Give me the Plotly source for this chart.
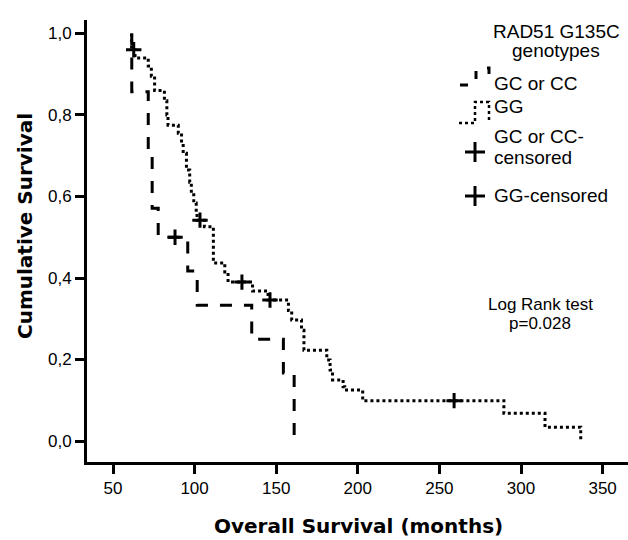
import plotly.graph_objects as go

# ---------------- data ----------------
# GC or CC genotype: event times (months) and survival after each event
gc_time = [61.5, 71.6, 74.0, 77.7, 95.8, 101.6, 135.0, 154.4, 161.0]
gc_surv = [0.857, 0.714, 0.571, 0.500, 0.417, 0.333, 0.250, 0.167, 0.0]
gc_cens_time = [88.0]
gc_cens_surv = [0.500]

# GG genotype
gg_time = [61.4, 63.5, 71.6, 73.5, 75.5, 81.5, 83.0, 83.7, 90.0, 92.0, 93.0,
           95.0, 97.0, 98.0, 99.5, 101.0, 101.5, 106.0, 111.5, 118.5, 120.5,
           135.5, 145.0, 157.5, 159.5, 165.5, 167.0, 181.0, 183.0, 184.5,
           191.0, 192.0, 203.0, 289.5, 314.7, 336.6]
gg_surv = [0.96, 0.94, 0.92, 0.895, 0.86, 0.835, 0.80, 0.775, 0.755, 0.73, 0.706,
           0.665, 0.635, 0.604, 0.584, 0.56, 0.542, 0.526, 0.437, 0.415, 0.39,
           0.368, 0.346, 0.32, 0.297, 0.272, 0.223, 0.199, 0.174, 0.15,
           0.133, 0.125, 0.099, 0.068, 0.034, 0.0]
gg_cens_time = [62.7, 103.3, 129.0, 146.2, 259.0]
gg_cens_surv = [0.96, 0.542, 0.39, 0.346, 0.099]

x_ticks = [50, 100, 150, 200, 250, 300, 350]
y_ticks = [0.0, 0.2, 0.4, 0.6, 0.8, 1.0]
y_ticklabels = ["0,0", "0,2", "0,4", "0,6", "0,8", "1,0"]

legend_title = ["RAD51 G135C", "genotypes"]
legend_labels = ["GC or CC", "GG", "GC or CC-", "censored", "GG-censored"]
test_text = ["Log Rank test", "p=0.028"]
x_title = "Overall Survival (months)"
y_title = "Cumulative Survival"

# ---------------- layout geometry ----------------
W, H = 628, 540
L, R, T, B = 87, 0, 20, 78
PW, PH = W - L - R, H - T - B


def px(x):
    return (x - L) / PW


def py(y):
    return (H - B - y) / PH


SANS = "Liberation Sans, Arial, sans-serif"
BOLD = "DejaVu Sans, Verdana, sans-serif"

fig = go.Figure()

# survival step curves (start at 1.0 at first event time)
fig.add_trace(go.Scatter(
    x=[gc_time[0]] + gc_time, y=[1.0] + gc_surv, mode="lines",
    line=dict(shape="hv", color="black", width=3, dash="12px,12px"),
    name="GC or CC", hoverinfo="skip"))
fig.add_trace(go.Scatter(
    x=[gg_time[0]] + gg_time, y=[1.0] + gg_surv, mode="lines",
    line=dict(shape="hv", color="black", width=3, dash="3px,3px"),
    name="GG", hoverinfo="skip"))
fig.add_trace(go.Scatter(
    x=gc_cens_time, y=gc_cens_surv, mode="markers",
    marker=dict(symbol="cross-thin", size=11, line=dict(width=3, color="black")),
    name="GC or CC-censored"))
fig.add_trace(go.Scatter(
    x=gg_cens_time, y=gg_cens_surv, mode="markers",
    marker=dict(symbol="cross-thin", size=11, line=dict(width=3, color="black")),
    name="GG-censored"))

axis_common = dict(
    showgrid=False, zeroline=False, showline=True, linewidth=3, linecolor="black",
    ticks="outside", ticklen=9, tickwidth=3, tickcolor="black",
    tickfont=dict(family=SANS, size=17, color="black"),
)
fig.update_xaxes(range=[34.07, 365.56], tickvals=x_ticks,
                 ticktext=[str(v) for v in x_ticks], **axis_common)
fig.update_yaxes(range=[-0.0515, 1.0331], tickvals=y_ticks,
                 ticktext=y_ticklabels, **axis_common)

ann = []
# axis titles
ann.append(dict(text="<b>" + x_title + "</b>", x=px(358), y=py(526), xref="paper", yref="paper",
                showarrow=False, xanchor="center", yanchor="middle",
                font=dict(family=BOLD, size=20, color="black")))
ann.append(dict(text="<b>" + y_title + "</b>", x=px(25), y=py(226), xref="paper", yref="paper",
                showarrow=False, xanchor="center", yanchor="middle", textangle=-90,
                font=dict(family=BOLD, size=20, color="black")))
# legend texts
LF = dict(family=SANS, size=19, color="black")
ann.append(dict(text=legend_title[0], x=px(556), y=py(31), xref="paper", yref="paper",
                showarrow=False, xanchor="center", yanchor="middle", font=LF))
ann.append(dict(text=legend_title[1], x=px(556), y=py(51), xref="paper", yref="paper",
                showarrow=False, xanchor="center", yanchor="middle", font=LF))
for lab, yy in zip(legend_labels, [83, 107, 137, 157, 195]):
    ann.append(dict(text=lab, x=px(492), y=py(yy), xref="paper", yref="paper",
                    showarrow=False, xanchor="left", yanchor="middle", font=LF))
# log rank
TF = dict(family=SANS, size=17, color="black")
ann.append(dict(text=test_text[0], x=px(540), y=py(304), xref="paper", yref="paper",
                showarrow=False, xanchor="center", yanchor="middle", font=TF))
ann.append(dict(text=test_text[1], x=px(540), y=py(323), xref="paper", yref="paper",
                showarrow=False, xanchor="center", yanchor="middle", font=TF))

# legend glyphs
def path(points):
    return "M " + " L ".join(f"{px(a):.5f},{py(b):.5f}" for a, b in points)


shapes = [
    dict(type="path", xref="paper", yref="paper",
         path=path([(460, 85), (476, 85), (476, 68), (489, 68), (489, 85)]),
         line=dict(color="black", width=3, dash="8px,14px")),
    dict(type="path", xref="paper", yref="paper",
         path=path([(459, 123), (475, 123), (475, 102), (489, 102), (489, 123)]),
         line=dict(color="black", width=2.5, dash="3px,3px")),
]
for cy in (152, 196):
    shapes.append(dict(type="line", xref="paper", yref="paper",
                       x0=px(465), x1=px(485), y0=py(cy), y1=py(cy),
                       line=dict(color="black", width=3)))
    shapes.append(dict(type="line", xref="paper", yref="paper",
                       x0=px(475), x1=px(475), y0=py(cy - 10), y1=py(cy + 10),
                       line=dict(color="black", width=3)))

fig.update_layout(width=W, height=H, margin=dict(l=L, r=R, t=T, b=B, autoexpand=False),
                  plot_bgcolor="white", paper_bgcolor="white", showlegend=False,
                  annotations=ann, shapes=shapes)

fig.write_html("out.html", config={"displayModeBar": False},
               post_script="document.body.style.margin='0';")
